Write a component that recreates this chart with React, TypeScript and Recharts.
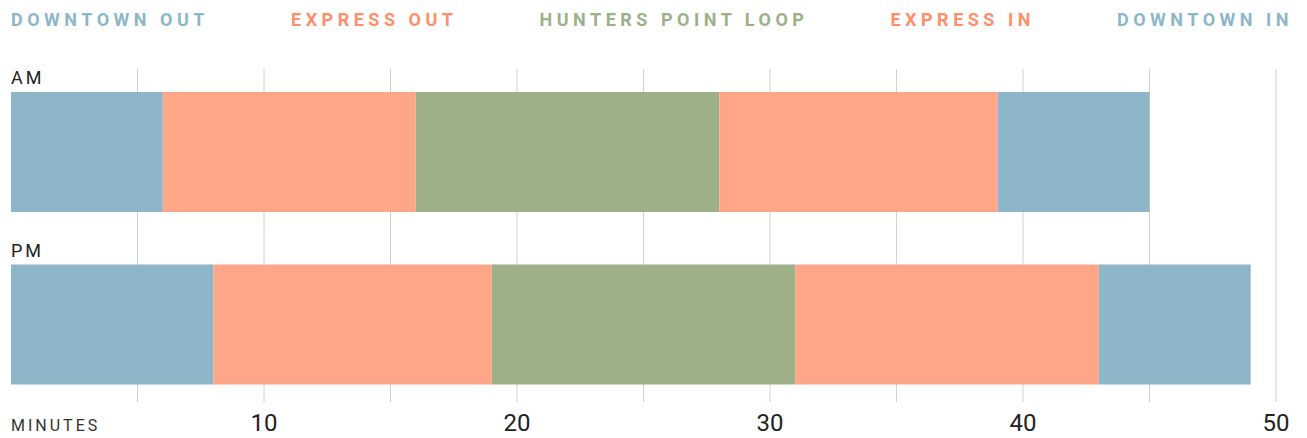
import React from 'react';
import { BarChart, Bar, XAxis, YAxis, CartesianGrid, LabelList } from 'recharts';

const periods = ['AM', 'PM'];
const downtownOut = [6, 8];
const expressOut = [10, 11];
const huntersPointLoop = [12, 12];
const expressIn = [11, 12];
const downtownIn = [6, 6];
const xTicks = [10, 20, 30, 40, 50];
const gridTicks = [5, 10, 15, 20, 25, 30, 35, 40, 45, 50];

const seriesInfo = [
  { key: 'downtownOut', name: 'DOWNTOWN OUT', fill: '#8db6c8', text: '#8db6c8' },
  { key: 'expressOut', name: 'EXPRESS OUT', fill: '#ffa588', text: '#ff8e6b' },
  { key: 'huntersPointLoop', name: 'HUNTERS POINT LOOP', fill: '#9db087', text: '#9db087' },
  { key: 'expressIn', name: 'EXPRESS IN', fill: '#ffa588', text: '#ff8e6b' },
  { key: 'downtownIn', name: 'DOWNTOWN IN', fill: '#8db6c8', text: '#8db6c8' },
];

const data = periods.map((p, i) => ({
  period: p,
  downtownOut: downtownOut[i],
  expressOut: expressOut[i],
  huntersPointLoop: huntersPointLoop[i],
  expressIn: expressIn[i],
  downtownIn: downtownIn[i],
}));

const FONT = 'Roboto, "Noto Sans", sans-serif';
const BAR_SIZE = 120;

const renderPeriod = (props: any) => {
  const { x, y, value } = props;
  return (
    <text
      x={x}
      y={Number(y) - 8}
      fontFamily={FONT}
      fontSize={18}
      letterSpacing={3}
      fill="#222"
    >
      {value}
    </text>
  );
};

export default function App() {
  return (
    <div style={{ position: 'absolute', left: 0, top: 0, width: 1307, height: 438, background: '#fff' }}>
      <div
        style={{
          position: 'absolute',
          left: 11,
          width: 1282,
          top: 9,
          display: 'flex',
          justifyContent: 'space-between',
          fontFamily: FONT,
          fontWeight: 700,
          fontSize: 18,
          letterSpacing: 4.5,
          whiteSpace: 'nowrap',
          lineHeight: '22px',
        }}
      >
        {seriesInfo.map((s) => (
          <span key={s.name} style={{ color: s.text }}>{s.name}</span>
        ))}
      </div>
      <BarChart
        width={1307}
        height={438}
        data={data}
        layout="vertical"
        margin={{ top: 69, right: 31, bottom: 0, left: 11 }}
        barCategoryGap={0}
      >
        <CartesianGrid horizontal={false} verticalValues={gridTicks} stroke="#d0d0d0" strokeWidth={1} />
        <XAxis
          type="number"
          domain={[0, 50]}
          ticks={xTicks}
          height={36}
          axisLine={false}
          tickLine={false}
          tickMargin={6}
          tick={{ fontFamily: FONT, fontSize: 24, fill: '#222' }}
        />
        <YAxis
          type="category"
          dataKey="period"
          width={0}
          axisLine={false}
          tickLine={false}
          tick={false}
          padding={{ top: -3, bottom: -9 }}
        />
        {seriesInfo.map((s, i) => (
          <Bar key={s.key} dataKey={s.key} stackId="a" fill={s.fill} barSize={BAR_SIZE} isAnimationActive={false}>
            {i === 0 ? <LabelList dataKey="period" content={renderPeriod} /> : null}
          </Bar>
        ))}
      </BarChart>
      <div
        style={{
          position: 'absolute',
          left: 11,
          top: 416,
          fontFamily: FONT,
          fontSize: 16,
          letterSpacing: 3,
          color: '#333',
        }}
      >
        MINUTES
      </div>
    </div>
  );
}
